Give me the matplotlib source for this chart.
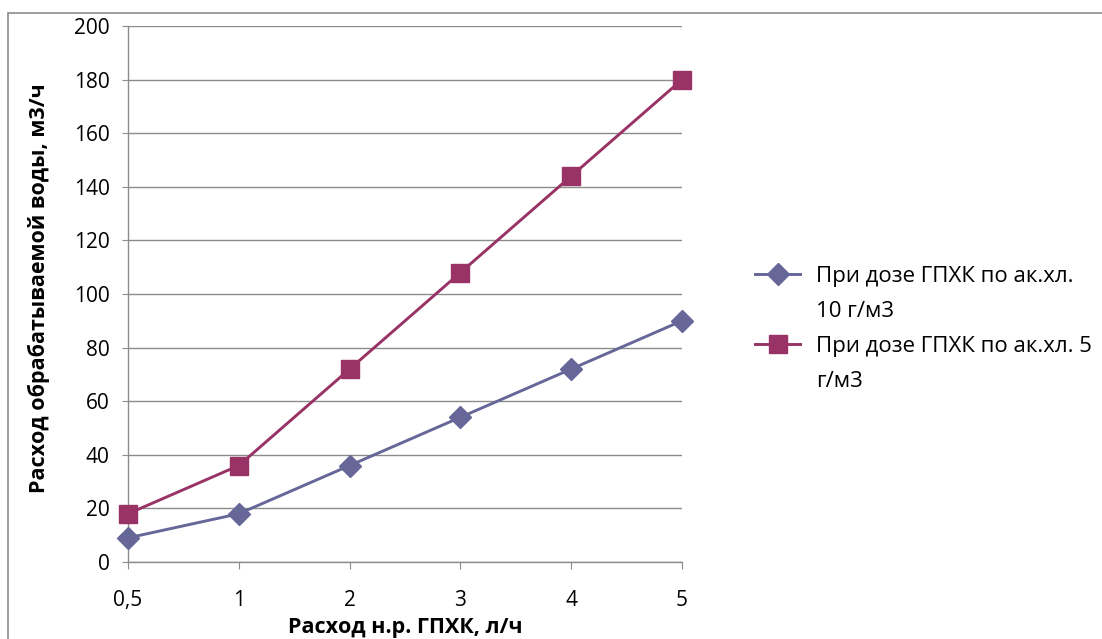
import matplotlib.pyplot as plt
from matplotlib.lines import Line2D
from matplotlib.patches import Rectangle

# Расход н.р. ГПХК vs расход обрабатываемой воды
categories = ['0,5', '1', '2', '3', '4', '5']
dose_10 = [9, 18, 36, 54, 72, 90]
dose_5 = [18, 36, 72, 108, 144, 180]
y_ticks = [0, 20, 40, 60, 80, 100, 120, 140, 160, 180, 200]

label_10 = ['При дозе ГПХК по ак.хл.', '10 г/м3']
label_5 = ['При дозе ГПХК по ак.хл. 5', 'г/м3']

plt.rcParams['font.family'] = ['Open Sans', 'DejaVu Sans']

fig = plt.figure(figsize=(11.02, 6.39), dpi=100)
ax = fig.add_axes([0.1162, 0.1205, 0.5027, 0.8388])

x = range(len(categories))
l10, = ax.plot(x, dose_10, color='#666699', lw=2.1, marker='D', ms=11,
               clip_on=False, zorder=3)
l5, = ax.plot(x, dose_5, color='#993366', lw=2.1, marker='s', ms=13.5,
              clip_on=False, zorder=3)

ax.set_xlim(0, len(categories) - 1)
ax.set_ylim(0, 200)
ax.set_xticks(list(x))
ax.set_xticklabels(categories)
ax.set_yticks(y_ticks)

ax.yaxis.grid(True, color='#8c8c8c', lw=1.0)
ax.set_axisbelow(True)
for s in ('top', 'right'):
    ax.spines[s].set_visible(False)
for s in ('left', 'bottom'):
    ax.spines[s].set_color('#8c8c8c')
    ax.spines[s].set_linewidth(1.0)

ax.tick_params(axis='x', direction='out', length=5, color='#8c8c8c',
               labelsize=15, pad=15)
ax.tick_params(axis='y', direction='out', length=4.3, color='#8c8c8c',
               labelsize=15, pad=9)

ax.set_xlabel('Расход н.р. ГПХК, л/ч', fontsize=15.5, fontweight='bold')
ax.xaxis.set_label_coords(0.5, -0.103)
ax.set_ylabel('Расход обрабатываемой воды, м3/ч', fontsize=15.5,
              fontweight='bold')
ax.yaxis.set_label_coords(-0.14, 0.51)

# legend: second line of each label sits under the first, without a marker
blank = Line2D([], [], color='none')
fig.legend([l10, blank, l5, blank], label_10 + label_5,
           loc='upper left', bbox_to_anchor=(0.685, 0.584), frameon=False,
           fontsize=16, handlelength=2.05, handletextpad=0.7,
           labelspacing=0.63, borderaxespad=0, borderpad=0)

# outer chart frame
fig.patches.append(Rectangle((8 / 1102, -0.2), 1.2, 0.2 + 1 - 13 / 639,
                             transform=fig.transFigure, fill=False,
                             edgecolor='#8c8c8c', lw=1.2))

fig.savefig('out.png', dpi=100)
